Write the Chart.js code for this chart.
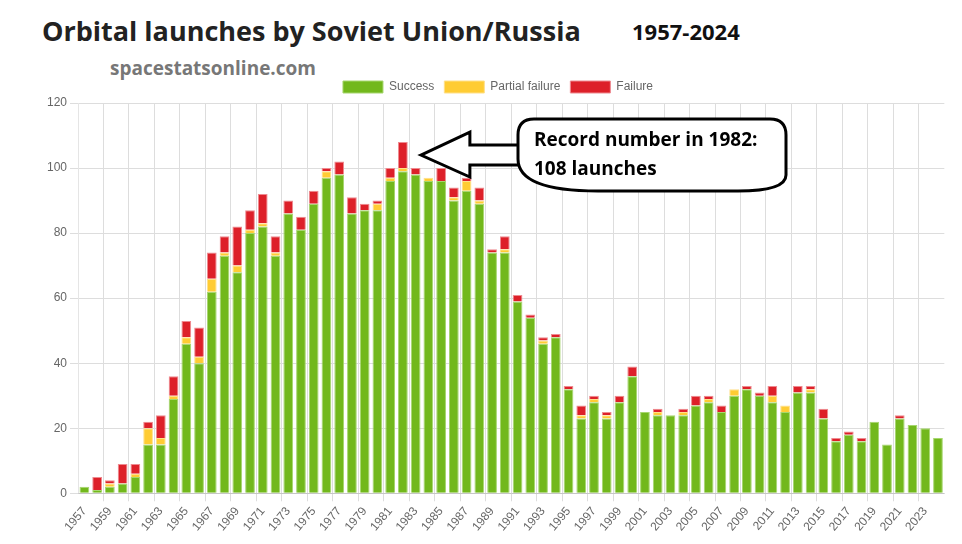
<!DOCTYPE html>
<html><head><meta charset="utf-8">
<script src="https://cdn.jsdelivr.net/npm/chart.js@4"></script>
<style>
body{margin:0;background:#fff;width:962px;height:544px;overflow:hidden;font-family:"Open Sans",sans-serif}
#t1{position:absolute;left:42px;top:12px;font-size:27px;font-weight:700;color:#222}
#t2{position:absolute;left:632px;top:16px;font-size:22px;font-weight:700;color:#111}
#t3{position:absolute;left:110px;top:55px;font-size:19px;font-weight:700;color:#777}
#wrap{position:absolute;left:44px;top:71px;width:908px;height:466px}
</style></head><body>
<div id="t1">Orbital launches by Soviet Union/Russia</div>
<div id="t2">1957-2024</div>
<div id="t3">spacestatsonline.com</div>
<div id="wrap"><canvas id="c"></canvas></div>
<script>
const years=[];for(let y=1957;y<=2024;y++)years.push(String(y));
const success=[2,1,2,3,5,15,15,29,46,40,62,73,68,80,82,73,86,81,89,97,98,86,87,87,96,99,98,96,96,90,93,89,74,74,59,54,46,48,32,23,28,23,28,36,25,24,24,24,27,28,25,30,32,30,28,25,31,31,23,16,18,16,22,15,23,21,20,17];
const partial=[0,0,1,0,1,5,2,1,2,2,4,1,2,1,1,1,0,0,0,2,0,0,0,2,1,1,0,1,0,1,3,1,0,1,0,0,1,0,0,1,1,1,0,0,0,1,0,1,0,1,0,2,0,0,2,2,0,1,0,0,0,0,0,0,0,0,0,0];
const failure=[0,4,1,6,3,2,7,6,5,9,8,5,12,6,9,5,4,4,4,1,4,5,2,1,3,8,2,0,4,3,1,4,1,4,2,1,1,1,1,3,1,1,2,3,0,1,0,1,3,1,2,0,1,1,3,0,2,1,3,1,1,1,0,0,1,0,0,0];
const callout={id:'callout',afterDraw(ch){
 const c=ch.ctx,xs=ch.scales.x,ys=ch.scales.y;
 const tx=xs.getPixelForValue(25)+18,ty=ys.getPixelForValue(104);
 const bx=474,by=ty-36,bw=268,bh=72,r=16;
 c.save();c.lineWidth=3;c.strokeStyle='#000';c.fillStyle='#fff';
 c.beginPath();c.moveTo(tx,ty);c.lineTo(tx+49,ty-23);c.lineTo(tx+49,ty-10);c.lineTo(bx+2,ty-10);
 c.lineTo(bx+2,ty+10);c.lineTo(tx+49,ty+10);c.lineTo(tx+49,ty+22);c.closePath();c.fill();c.stroke();
 c.beginPath();c.moveTo(bx+r,by);c.lineTo(bx+bw-r,by);c.quadraticCurveTo(bx+bw,by,bx+bw,by+r);
 c.lineTo(bx+bw,by+bh-r);c.quadraticCurveTo(bx+bw,by+bh,bx+bw-r*3,by+bh);c.lineTo(bx+r*5,by+bh);
 c.quadraticCurveTo(bx,by+bh,bx,by+bh-r*2);c.lineTo(bx,by+r);c.quadraticCurveTo(bx,by,bx+r,by);c.closePath();c.fill();c.stroke();
 c.fillStyle='#000';c.font='bold 19px "Open Sans"';c.textBaseline='middle';
 c.fillText('Record number in 1982:',bx+16,by+22);c.fillText('108 launches',bx+16,by+51);
 c.restore();}};
const ds=(l,d,bg,bc)=>({label:l,data:d,backgroundColor:bg,borderColor:bc,borderWidth:1,categoryPercentage:0.9,barPercentage:0.85});
new Chart(document.getElementById('c'),{type:'bar',
 data:{labels:years,datasets:[ds('Success',success,'#72b81c','#a6d66e'),ds('Partial failure',partial,'#ffcc33','#ffe08a'),ds('Failure',failure,'#dd2029','#ee8a90')]},
 options:{responsive:true,maintainAspectRatio:false,animation:false,
  plugins:{legend:{labels:{boxWidth:40,boxHeight:12,font:{family:'Liberation Sans',size:12},color:'#666'}},tooltip:{enabled:false}},
  scales:{x:{stacked:true,grid:{color:c=>(c.index%2===0&&c.index>0)?'#ddd':'rgba(0,0,0,0)'},
    ticks:{autoSkip:false,maxRotation:50,minRotation:50,color:'#666',font:{family:'Liberation Sans',size:12},callback:(v,i)=>i%2===0?years[i]:''}},
   y:{stacked:true,min:0,max:120,ticks:{stepSize:20,color:'#666',font:{family:'Liberation Sans',size:12}},grid:{color:'#ddd'}}}},
 plugins:[callout]});
</script></body></html>
